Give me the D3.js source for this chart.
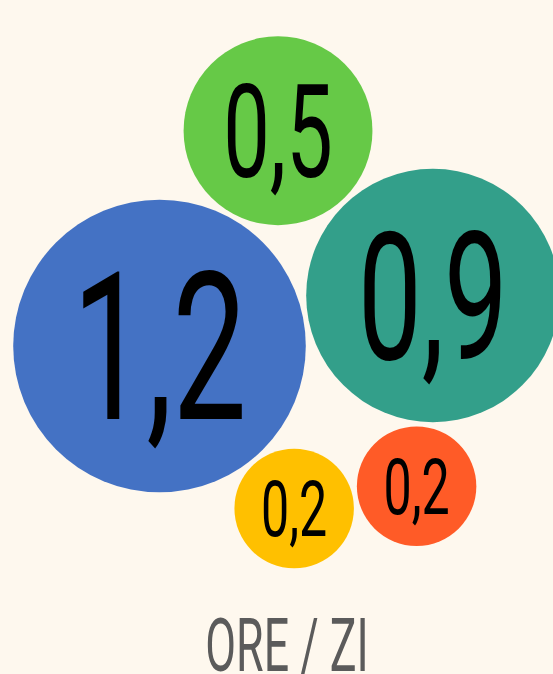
<!DOCTYPE html>
<html>
<head>
<meta charset="utf-8">
<script src="https://cdn.jsdelivr.net/npm/d3@7"></script>
<style>
  html, body { margin: 0; padding: 0; background: #FEF8EE; }
  svg { display: block; }
</style>
</head>
<body>
<script>
// values shown in the bubbles (hours per day)
var values = [1.2, 0.9, 0.5, 0.2, 0.2];
var colors = ["#4472C4", "#339F8A", "#66C947", "#FFC000", "#FF5B27"];
var title = "ORE / ZI";

var w = 553, h = 674;

var svg = d3.select("body").append("svg")
    .attr("width", w)
    .attr("height", h);

// bubble area proportional to value
var r = d3.scaleSqrt()
    .domain([0, d3.max(values)])
    .range([0, 146.3]);

var fmt = d3.formatLocale({decimal: ",", thousands: ".", grouping: [3], currency: ["", ""]}).format(".1f");

var nodes = values.map(function(v, i) {
  return {value: v, r: r(v), color: colors[i]};
});

// layout: circles packed touching each other with a small gap
var gap = 5;
var anchor = [159.5, 346];
var theta = -10.46 * Math.PI / 180;   // direction big -> second
var phi = 50.35 * Math.PI / 180;      // direction big -> fourth

function touch(a, c, ang) {
  var d = a.r + c.r + gap;
  c.x = a.x + d * Math.cos(ang);
  c.y = a.y + d * Math.sin(ang);
}

// put c against both a and b, side = +1 / -1
function between(a, b, c, side) {
  var da = a.r + c.r + gap, db = b.r + c.r + gap;
  var dx = b.x - a.x, dy = b.y - a.y, d = Math.sqrt(dx * dx + dy * dy);
  var x = (da * da - db * db + d * d) / (2 * d);
  var y = Math.sqrt(Math.max(0, da * da - x * x));
  c.x = a.x + (x * dx - side * y * dy) / d;
  c.y = a.y + (x * dy + side * y * dx) / d;
}

nodes[0].x = anchor[0]; nodes[0].y = anchor[1];
touch(nodes[0], nodes[1], theta);
between(nodes[0], nodes[1], nodes[2], -1);
touch(nodes[0], nodes[3], phi);
between(nodes[3], nodes[1], nodes[4], 1);

var g = svg.selectAll("g.bubble")
    .data(nodes)
    .enter().append("g")
    .attr("class", "bubble")
    .attr("transform", function(d) { return "translate(" + d.x + "," + d.y + ")"; });

g.append("circle")
    .attr("r", function(d) { return d.r; })
    .style("fill", function(d) { return d.color; });

// digit height grows with radius
var capH = 0.711;
g.append("text")
    .text(function(d) { return fmt(d.value); })
    .attr("text-anchor", "middle")
    .attr("transform", "scale(0.64,1)")
    .attr("y", function(d) { return (1.05 * d.r - 7) / 2; })
    .style("font-family", "Roboto, sans-serif")
    .style("font-weight", 400)
    .style("font-size", function(d) { return ((1.05 * d.r - 7) / capH) + "px"; })
    .style("fill", "#000");

svg.append("text")
    .text(title)
    .attr("text-anchor", "middle")
    .attr("transform", "translate(287,671) scale(0.6,1)")
    .style("font-family", "Roboto, sans-serif")
    .style("font-weight", 400)
    .style("font-size", (53 / capH) + "px")
    .style("fill", "#5B5B5B");
</script>
</body>
</html>
